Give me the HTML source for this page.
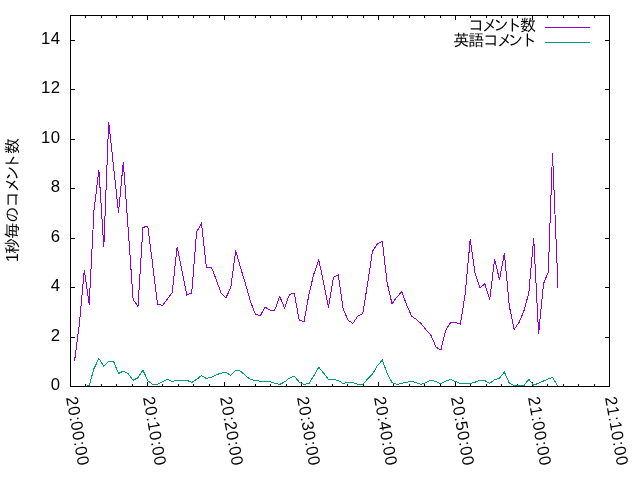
<!DOCTYPE html>
<html lang="ja">
<head>
<meta charset="utf-8">
<title>1秒毎のコメント数</title>
<style>
html,body{margin:0;padding:0;background:#fff;}
body{width:640px;height:480px;overflow:hidden;}
svg{display:block;}
.num text{font-family:'Liberation Sans', sans-serif;font-size:16.7px;fill:#000;}
.jp text{font-family:'Liberation Sans', 'IPAGothic', 'Noto Sans CJK JP', sans-serif;font-size:16px;fill:#000;}
</style>
</head>
<body>
<svg width="640" height="480" viewBox="0 0 640 480">
<rect x="0" y="0" width="640" height="480" fill="#ffffff"/>
<g shape-rendering="crispEdges" fill="none" stroke-width="1">
<path d="M71,337.5h4 M609,337.5h-4 M71,287.5h4 M609,287.5h-4 M71,238.5h4 M609,238.5h-4 M71,188.5h4 M609,188.5h-4 M71,139.5h4 M609,139.5h-4 M71,89.5h4 M609,89.5h-4 M71,40.5h4 M609,40.5h-4 M85.5,386v-2 M85.5,16v2 M101.5,386v-2 M101.5,16v2 M116.5,386v-2 M116.5,16v2 M132.5,386v-2 M132.5,16v2 M147.5,386v-4 M147.5,16v4 M162.5,386v-2 M162.5,16v2 M178.5,386v-2 M178.5,16v2 M193.5,386v-2 M193.5,16v2 M209.5,386v-2 M209.5,16v2 M224.5,386v-4 M224.5,16v4 M239.5,386v-2 M239.5,16v2 M255.5,386v-2 M255.5,16v2 M270.5,386v-2 M270.5,16v2 M286.5,386v-2 M286.5,16v2 M301.5,386v-4 M301.5,16v4 M316.5,386v-2 M316.5,16v2 M332.5,386v-2 M332.5,16v2 M347.5,386v-2 M347.5,16v2 M363.5,386v-2 M363.5,16v2 M378.5,386v-4 M378.5,16v4 M393.5,386v-2 M393.5,16v2 M409.5,386v-2 M409.5,16v2 M424.5,386v-2 M424.5,16v2 M440.5,386v-2 M440.5,16v2 M455.5,386v-4 M455.5,16v4 M470.5,386v-2 M470.5,16v2 M486.5,386v-2 M486.5,16v2 M501.5,386v-2 M501.5,16v2 M517.5,386v-2 M517.5,16v2 M532.5,386v-4 M532.5,16v4 M547.5,386v-2 M547.5,16v2 M563.5,386v-2 M563.5,16v2 M578.5,386v-2 M578.5,16v2 M594.5,386v-2 M594.5,16v2" stroke="#000"/>
<polyline points="74.5,361.5 79.4,323.8 84.3,270.0 89.2,304.5 94.0,210.0 98.9,170.0 103.8,247.0 108.7,122.0 113.6,167.0 118.5,212.5 123.3,162.0 128.2,229.0 133.1,299.5 138.0,306.5 142.9,227.5 147.8,226.0 152.7,265.0 157.5,304.0 162.4,305.5 167.3,299.0 172.2,292.5 177.1,247.0 182.0,271.0 186.9,295.0 191.7,293.0 196.6,232.0 201.5,223.5 206.4,267.0 211.3,267.0 216.2,279.5 221.0,293.0 225.9,298.0 230.8,287.5 235.7,250.5 240.6,268.0 245.5,283.8 250.4,301.2 255.2,313.8 260.1,316.2 265.0,307.0 269.9,310.0 274.8,310.0 279.7,296.5 284.6,308.0 289.4,294.5 294.3,293.2 299.2,320.3 304.1,321.4 309.0,294.0 313.9,273.8 318.8,260.0 323.6,282.5 328.5,307.5 333.4,277.5 338.3,275.0 343.2,309.0 348.1,320.2 352.9,323.5 357.8,316.0 362.7,313.8 367.6,283.8 372.5,251.2 377.4,243.8 382.3,241.2 387.1,282.5 392.0,303.8 396.9,297.0 401.8,291.8 406.7,305.0 411.6,316.2 416.4,319.5 421.3,323.8 426.2,330.0 431.1,335.5 436.0,347.0 440.9,350.0 445.8,330.0 450.6,322.5 455.5,322.5 460.4,324.2 465.3,293.0 470.2,239.5 475.1,273.8 480.0,288.0 484.8,283.8 489.7,299.5 494.6,259.5 499.5,279.5 504.4,253.2 509.3,306.0 514.1,329.5 519.0,322.5 523.9,311.0 528.8,293.0 533.7,238.0 538.6,333.8 543.5,283.8 548.3,272.0 552.5,153.0 558.0,287.5" stroke="#9400d3"/>
<polyline points="84.3,386.5 89.2,385.5 94.0,368.5 98.9,358.5 103.8,366.5 108.7,361.5 113.6,361.5 118.5,373.5 123.3,371.2 128.2,373.8 133.1,380.2 138.0,377.8 142.9,370.0 147.8,380.6 152.7,384.4 157.5,384.4 162.4,381.9 167.3,379.4 172.2,381.5 177.1,380.2 182.0,380.2 186.9,380.2 191.7,382.5 196.6,379.4 201.5,375.6 206.4,378.5 211.3,377.2 216.2,374.8 221.0,373.1 225.9,372.5 230.8,375.4 235.7,370.2 240.6,371.2 245.5,375.6 250.4,379.4 255.2,380.6 260.1,381.2 265.0,381.2 269.9,381.5 274.8,383.5 279.7,384.4 284.6,381.9 289.4,378.1 294.3,376.2 299.2,382.0 304.1,384.4 309.0,383.4 313.9,375.6 318.8,367.2 323.6,373.1 328.5,379.4 333.4,379.4 338.3,380.6 343.2,383.5 348.1,382.2 352.9,382.5 357.8,384.4 362.7,384.4 367.6,379.0 372.5,374.0 377.4,365.6 382.3,360.2 387.1,373.1 392.0,382.5 396.9,384.4 401.8,383.4 406.7,382.2 411.6,381.2 416.4,382.8 421.3,384.4 426.2,382.5 431.1,380.2 436.0,381.5 440.9,383.8 445.8,381.2 450.6,379.4 455.5,381.5 460.4,383.4 465.3,383.4 470.2,383.4 475.1,382.2 480.0,380.2 484.8,380.6 489.7,383.5 494.6,379.8 499.5,378.1 504.4,372.2 509.3,383.1 514.1,385.5 519.0,385.5 523.9,385.5 528.8,379.4 533.7,385.2 538.6,383.1 543.5,381.0 548.3,379.0 552.5,377.2 558.0,386.5" stroke="#009e73"/>
<path d="M545,27.5H590" stroke="#9400d3"/>
<path d="M545,42.5H590" stroke="#009e73"/>
<rect x="70.5" y="15.5" width="539" height="371" stroke="#000"/>
</g>
<g class="num">
<text x="50.8" y="389.5">0</text>
<text x="50.8" y="340.5">2</text>
<text x="50.8" y="290.5">4</text>
<text x="50.8" y="241.5">6</text>
<text x="50.8" y="191.5">8</text>
<text x="40.9 50.8" y="142.5">10</text>
<text x="40.9 50.8" y="92.5">12</text>
<text x="40.9 50.8" y="43.5">14</text>
<text transform="translate(66,397.5) rotate(80)" x="0.00 9.90 20.21 25.25 35.15 45.46 50.50 60.40">20:00:00</text>
<text transform="translate(143,397.5) rotate(80)" x="0.00 9.90 20.21 25.25 35.15 45.46 50.50 60.40">20:10:00</text>
<text transform="translate(220,397.5) rotate(80)" x="0.00 9.90 20.21 25.25 35.15 45.46 50.50 60.40">20:20:00</text>
<text transform="translate(297,397.5) rotate(80)" x="0.00 9.90 20.21 25.25 35.15 45.46 50.50 60.40">20:30:00</text>
<text transform="translate(374,397.5) rotate(80)" x="0.00 9.90 20.21 25.25 35.15 45.46 50.50 60.40">20:40:00</text>
<text transform="translate(451,397.5) rotate(80)" x="0.00 9.90 20.21 25.25 35.15 45.46 50.50 60.40">20:50:00</text>
<text transform="translate(528,397.5) rotate(80)" x="0.00 9.90 20.21 25.25 35.15 45.46 50.50 60.40">21:00:00</text>
<text transform="translate(605,397.5) rotate(80)" x="0.00 9.90 20.21 25.25 35.15 45.46 50.50 60.40">21:10:00</text>
</g>
<g class="jp">
<text x="468.25 481.7 492.9 506 520.1" y="30.5">コメント数</text>
<text x="453.25 468.2 483.1 496.7 507.5 521" y="45.75">英語コメント</text>
<text transform="translate(18,260.5) rotate(-90)" x="-1.5 6.45 21.75 37.8 53.3 67.7 79.3 91 106.5">1秒毎のコメント数</text>
</g>
</svg>
</body>
</html>
